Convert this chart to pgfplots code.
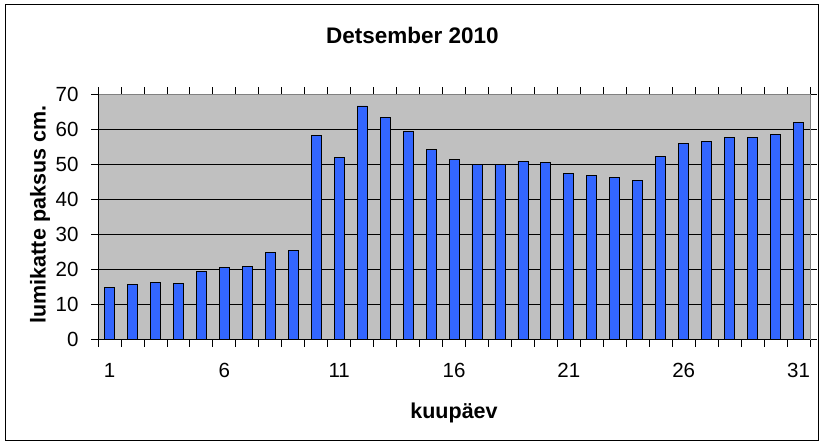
\documentclass[border=0pt]{standalone}
\usepackage{pgfplots}
\pgfplotsset{compat=1.18}
\usepackage{fontspec}
\setmainfont{Liberation Sans}
\definecolor{plotbg}{HTML}{C0C0C0}
\definecolor{barblue}{HTML}{3366FF}
\definecolor{frame}{HTML}{808080}
\begin{document}
\begin{tikzpicture}[x=1pt,y=1pt]
\fill[white] (0,0) rectangle (825,445);
\draw[black,line width=1pt] (5,5) rectangle (818,440);
\node[font=\fontsize{22.5}{26}\selectfont\bfseries] at (412.5,410) {Detsember 2010};
\begin{axis}[
  at={(98pt,105.5pt)}, anchor=south west,
  scale only axis, width=712pt, height=245.5pt,
  xmin=0.5, xmax=31.5, ymin=0, ymax=70,
  ytick={0,10,...,70},
  xtick={0.5,1.5,...,31.5}, xticklabels={},
  extra x ticks={1,6,11,16,21,26,31},
  extra x tick style={major tick length=0pt, tick label style={yshift=-20.5pt}},
  extra x tick labels={1,6,11,16,21,26,31},
  tick align=outside, major tick length=7pt,
  tick style={black, line width=0.8pt},
  ymajorgrids, grid style={black, line width=0.8pt},
  axis background/.style={fill=plotbg},
  axis line style={frame, line width=1pt},
  /pgf/number format/assume math mode=true,
  tick label style={font=\fontsize{20.5}{24}\selectfont},
  yticklabel style={xshift=-9pt},
  xlabel={kuupäev}, ylabel={lumikatte paksus cm.},
  label style={font=\fontsize{21.5}{25}\selectfont\bfseries},
  xlabel style={at={(axis description cs:0.5,-0.30)}, anchor=center},
  ylabel style={at={(axis description cs:-0.0815,0.509)}, anchor=center, rotate=0},
  ybar, bar width=10pt,
  clip=false,
  after end axis/.code={
    \draw[black, line width=1pt] (rel axis cs:0,1) -- (rel axis cs:0,0) -- (rel axis cs:1,0);
  },
]
\addplot[fill=barblue, draw=black, line width=0.8pt] coordinates {
(1,14.8) (2,15.6) (3,16.2) (4,15.9) (5,19.3) (6,20.5) (7,20.8) (8,24.8)
(9,25.3) (10,58.2) (11,51.9) (12,66.6) (13,63.3) (14,59.3) (15,54.2)
(16,51.3) (17,49.8) (18,49.8) (19,50.8) (20,50.5) (21,47.3) (22,46.8)
(23,46.2) (24,45.3) (25,52.2) (26,55.9) (27,56.5) (28,57.6) (29,57.6)
(30,58.5) (31,61.9)
};
\end{axis}
\end{tikzpicture}
\end{document}
